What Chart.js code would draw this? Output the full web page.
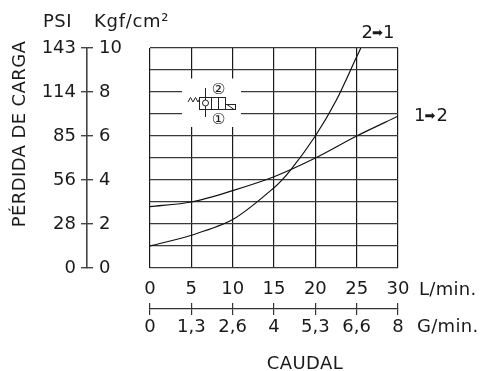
<!DOCTYPE html>
<html>
<head>
<meta charset="utf-8">
<script src="https://cdn.jsdelivr.net/npm/chart.js@4/dist/chart.umd.min.js"></script>
<style>
html, body { margin: 0; padding: 0; background: #fff; }
canvas { display: block; }
</style>
</head>
<body>
<canvas id="c" width="480" height="371"></canvas>
<script>
// values: flow in L/min, pressure drop in Kgf/cm2
var flow_12 = [0, 5, 10, 15, 20, 25, 30]
var drop_12 = [2.79, 3.0, 3.52, 4.15, 5.0, 6.0, 6.9]
var flow_21 = [0, 5, 10, 15, 17, 20, 22.5, 25, 25.5]
var drop_21 = [1.0, 1.49, 2.2, 3.65, 4.45, 6.0, 7.6, 9.6, 10]

var kgf_labels = ["0", "2", "4", "6", "8", "10"]
var psi_labels = ["0", "28", "56", "85", "114", "143"]
var lmin_labels = ["0", "5", "10", "15", "20", "25", "30"]
var gmin_labels = ["0", "1,3", "2,6", "4", "5,3", "6,6", "8"]

var FONT = "DejaVu Sans, Verdana, sans-serif"
var TEXT = "#1a1a1a"
var tick_font = {family: FONT, size: 18}

function points(xs, ys){
    return xs.map(function(x, i){ return {x: x, y: ys[i]} })
}

function setWidth(w){ return function(scale){ scale.width = w } }
function setHeight(h){ return function(scale){ scale.height = h } }

function text(ctx, s, x, y, align, size, spacing){
    ctx.font = (size || 18) + "px " + FONT
    ctx.letterSpacing = (spacing || 0) + "px"
    ctx.textAlign = align || "left"
    ctx.fillText(s, x, y)
    ctx.letterSpacing = "0px"
}

// the small valve symbol, sits in a white gap cut out of the grid
function drawValve(ctx){
    ctx.fillStyle = "#fff"
    ctx.fillRect(182, 78.5, 59, 48.5)
    ctx.strokeStyle = "#222"
    ctx.lineWidth = 1
    ctx.strokeRect(199.5, 97.5, 26, 12)
    ctx.strokeRect(225.5, 104.5, 10, 5)
    ctx.beginPath()
    ctx.moveTo(211.5, 97.5); ctx.lineTo(211.5, 109.5)
    ctx.moveTo(218.5, 97.5); ctx.lineTo(218.5, 109.5)
    ctx.moveTo(205.5, 88); ctx.lineTo(205.5, 117)
    ctx.moveTo(227, 104.5); ctx.lineTo(234, 109.5)
    ctx.moveTo(188, 102); ctx.lineTo(190.5, 97.5); ctx.lineTo(193, 102)
    ctx.lineTo(195.5, 97.5); ctx.lineTo(198, 102); ctx.lineTo(199.5, 99)
    ctx.stroke()
    ctx.fillStyle = "#fff"
    ctx.beginPath()
    ctx.arc(205.5, 103, 3, 0, Math.PI * 2)
    ctx.fill()
    ctx.stroke()
    ctx.fillStyle = TEXT
    text(ctx, "\u2461", 218.5, 93.5, "center", 15)
    text(ctx, "\u2460", 218.5, 123.5, "center", 15)
}

var extras = {
    id: "extras",
    afterDraw: function(chart){
        var ctx = chart.ctx
        ctx.save()
        drawValve(ctx)
        ctx.fillStyle = TEXT
        ctx.textBaseline = "alphabetic"
        text(ctx, "PSI", 43, 27, "left", 18, 0.5)
        text(ctx, "Kgf/cm\u00B2", 94, 27, "left", 18, 0.7)
        text(ctx, "L/min.", 419, 295, "left", 18, 0.3)
        text(ctx, "G/min.", 417, 332, "left", 18, 0.3)
        text(ctx, "CAUDAL", 305, 369, "center", 18, 0.4)
        text(ctx, "2", 361.5, 38)
        text(ctx, "\u27A1", 372, 37, "left", 13)
        text(ctx, "1", 383, 38)
        text(ctx, "1", 414, 120.5)
        text(ctx, "\u27A1", 424.5, 119.5, "left", 13)
        text(ctx, "2", 436.5, 120.5)
        ctx.translate(25, 134)
        ctx.rotate(-Math.PI / 2)
        text(ctx, "P\u00C9RDIDA DE CARGA", 0, 0, "center", 18, 0.4)
        ctx.restore()
    }
}

new Chart(document.getElementById("c").getContext("2d"), {
    type: "scatter",
    data: {
        datasets: [
            {data: points(flow_12, drop_12), showLine: true, pointRadius: 0, borderColor: "#111", borderWidth: 1.2, tension: 0.3},
            {data: points(flow_21, drop_21), showLine: true, pointRadius: 0, borderColor: "#111", borderWidth: 1.2, tension: 0.3}
        ]
    },
    options: {
        responsive: false,
        animation: false,
        layout: {padding: {left: 0, right: 82, top: 48, bottom: 0}},
        plugins: {legend: {display: false}, tooltip: {enabled: false}},
        scales: {
            x: {
                type: "linear", position: "bottom", weight: 0, min: 0, max: 30,
                border: {display: false},
                grid: {color: "#1a1a1a", lineWidth: 1.2, drawTicks: false},
                ticks: {stepSize: 5, padding: 11, color: TEXT, font: tick_font, maxRotation: 0,
                    callback: function(v){ return lmin_labels[v / 5] }},
                afterFit: setHeight(35)
            },
            // upper half of the G/min. tick marks
            xUp: {
                type: "linear", axis: "x", position: "bottom", weight: 1, min: 0, max: 30,
                border: {display: false},
                grid: {drawOnChartArea: false, color: "#333", lineWidth: 1.2, tickLength: 6},
                ticks: {stepSize: 5, display: false},
                afterFit: setHeight(6)
            },
            xG: {
                type: "linear", axis: "x", position: "bottom", weight: 2, min: 0, max: 30,
                border: {color: "#333", width: 1.2},
                grid: {drawOnChartArea: false, color: "#333", lineWidth: 1.2, tickLength: 6},
                ticks: {stepSize: 5, padding: 2, color: TEXT, font: tick_font, maxRotation: 0,
                    callback: function(v){ return gmin_labels[v / 5] }},
                afterFit: setHeight(62)
            },
            y: {
                type: "linear", position: "left", weight: 0, min: 0, max: 10,
                border: {display: false},
                grid: {color: "#3a3a3a", lineWidth: 1.3, drawTicks: false},
                ticks: {stepSize: 1, display: false},
                afterFit: setWidth(57)
            },
            yKgf: {
                type: "linear", axis: "y", position: "left", weight: 1, min: 0, max: 10,
                border: {display: false},
                grid: {drawOnChartArea: false, color: "#444", lineWidth: 1.4, tickLength: 6},
                ticks: {stepSize: 2, mirror: true, padding: 6, color: TEXT, font: tick_font,
                    callback: function(v){ return kgf_labels[v / 2] }},
                afterFit: setWidth(6)
            },
            yPsi: {
                type: "linear", axis: "y", position: "left", weight: 2, min: 0, max: 10,
                border: {color: "#444", width: 1.6},
                grid: {drawOnChartArea: false, color: "#444", lineWidth: 1.4, tickLength: 6},
                ticks: {stepSize: 2, padding: 5, color: TEXT, font: tick_font,
                    callback: function(v){ return psi_labels[v / 2] }},
                afterFit: setWidth(87)
            }
        }
    },
    plugins: [extras]
})
</script>
</body>
</html>
